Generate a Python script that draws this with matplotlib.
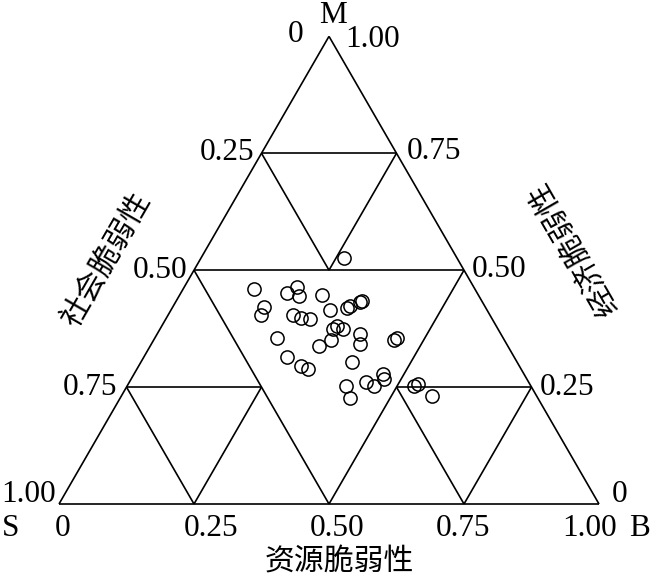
import numpy as np
import matplotlib
matplotlib.use("Agg")
import matplotlib.pyplot as plt

plt.rcParams['font.family'] = ['Liberation Serif', 'Noto Sans CJK SC']

# ---- data (ternary fractions) ----
resource = [0.265, 0.132, 0.209, 0.197, 0.222, 0.264, 0.169, 0.171, 0.231, 0.250,
            0.267, 0.294, 0.323, 0.328, 0.341, 0.344, 0.319, 0.325, 0.338, 0.329,
            0.225, 0.312, 0.376, 0.386, 0.445, 0.448, 0.265, 0.391, 0.300, 0.316,
            0.405, 0.426, 0.438, 0.458, 0.462, 0.468, 0.531, 0.537, 0.576]
economic = [0.526, 0.460, 0.465, 0.452, 0.445, 0.447, 0.421, 0.405, 0.405, 0.398,
            0.396, 0.414, 0.420, 0.423, 0.431, 0.435, 0.375, 0.381, 0.374, 0.351,
            0.356, 0.338, 0.363, 0.342, 0.351, 0.355, 0.315, 0.303, 0.296, 0.289,
            0.252, 0.226, 0.260, 0.252, 0.277, 0.267, 0.252, 0.256, 0.230]
social = [0.209, 0.408, 0.326, 0.351, 0.333, 0.289, 0.410, 0.424, 0.364, 0.352,
          0.337, 0.292, 0.257, 0.249, 0.228, 0.221, 0.306, 0.294, 0.288, 0.320,
          0.419, 0.350, 0.261, 0.272, 0.204, 0.197, 0.420, 0.306, 0.404, 0.395,
          0.343, 0.348, 0.302, 0.290, 0.261, 0.265, 0.217, 0.207, 0.194]

ticks = [0, 0.25, 0.50, 0.75, 1.00]
tick_labels = ['0', '0.25', '0.50', '0.75', '1.00']
vertex_labels = ['S', 'B', 'M']
axis_titles = ['社会脆弱性', '资源脆弱性', '经济脆弱性']

H = np.sqrt(3) / 2


def tern(b, m):
    b = np.asarray(b, float)
    m = np.asarray(m, float)
    return b + m / 2, m * H


# ---- figure: 650x579 px, 1 unit = 540 px ----
W, HH = 650, 579
ox, oy, unit = 59, 504, 540
fig = plt.figure(figsize=(W / 100, HH / 100), dpi=100)
ax = fig.add_axes([0, 0, 1, 1])
ax.set_xlim(-ox / unit, (W - ox) / unit)
ax.set_ylim(-(HH - oy) / unit, oy / unit)
ax.axis('off')

lw = 1.2
# outer triangle + subdivision segments (B, M) pairs
segments = [
    ((0, 0), (1, 0)), ((1, 0), (0, 1)), ((0, 1), (0, 0)),
    ((0, 0.5), (0.5, 0.5)), ((0, 0.5), (0.5, 0)), ((0.5, 0.5), (0.5, 0)),
    ((0, 0.75), (0.25, 0.75)), ((0, 0.75), (0.25, 0.5)), ((0.25, 0.75), (0.25, 0.5)),
    ((0, 0.25), (0.25, 0.25)), ((0, 0.25), (0.25, 0)), ((0.25, 0.25), (0.25, 0)),
    ((0.5, 0.25), (0.75, 0.25)), ((0.5, 0.25), (0.75, 0)), ((0.75, 0.25), (0.75, 0)),
]
for (b1, m1), (b2, m2) in segments:
    x, y = tern([b1, b2], [m1, m2])
    ax.plot(x, y, color='black', lw=lw, solid_capstyle='butt', zorder=2)

# points
tot = np.array(resource) + np.array(economic) + np.array(social)
px, py = tern(np.array(resource) / tot, np.array(economic) / tot)
ax.plot(px, py, 'o', ms=9.5, mfc='none', mec='black', mew=1.1, zorder=3)

fs = 22.5

# left side (social): value v at B=0, M=1-v
left_off = [(-26, 2), (-7, 1), (-7, 0), (-9, 0), (-3, 10)]
for v, lab, (dx, dy) in zip(ticks, tick_labels, left_off):
    x, y = tern(0, 1 - v)
    ax.annotate(lab, (x, y), xytext=(dx, dy), textcoords='offset pixels',
                ha='right', va='center', fontsize=fs)

# right side (economic): value v at B=1-v, M=v
right_off = [(13, 9), (8, 0), (8, 1), (10, 2), (16, -3)]
for v, lab, (dx, dy) in zip(ticks, tick_labels, right_off):
    x, y = tern(1 - v, v)
    ax.annotate(lab, (x, y), xytext=(dx, dy), textcoords='offset pixels',
                ha='left', va='center', fontsize=fs)

# bottom (resource)
bottom_off = [4, 17, 8, -1, -9]
for v, lab, dx in zip(ticks, tick_labels, bottom_off):
    x, y = tern(v, 0)
    ax.annotate(lab, (x, y), xytext=(dx, -24), textcoords='offset pixels',
                ha='center', va='center', fontsize=fs)

# vertex letters
for (b, m), lab, off in zip([(0, 0), (1, 0), (0, 1)], vertex_labels,
                            [(-48, -24), (41, -24), (4, 21)]):
    x, y = tern(b, m)
    ax.annotate(lab, (x, y), xytext=off, textcoords='offset pixels',
                ha='center', va='center', fontsize=fs)

# axis titles
cfs = 21.5
cjk = ['Noto Sans CJK SC', 'DejaVu Sans']
ax.text((106 - ox) / unit, (oy - 260) / unit, axis_titles[0], rotation=60,
        ha='center', va='center', fontsize=cfs, family=cjk, rotation_mode='anchor')
ax.text((339 - ox) / unit, (oy - 562) / unit, axis_titles[1], rotation=0,
        ha='center', va='center', fontsize=cfs, family=cjk)
ax.text((573 - ox) / unit, (oy - 248) / unit, axis_titles[2], rotation=120,
        ha='center', va='center', fontsize=cfs, family=cjk, rotation_mode='anchor')

fig.savefig('out.png', dpi=100)
